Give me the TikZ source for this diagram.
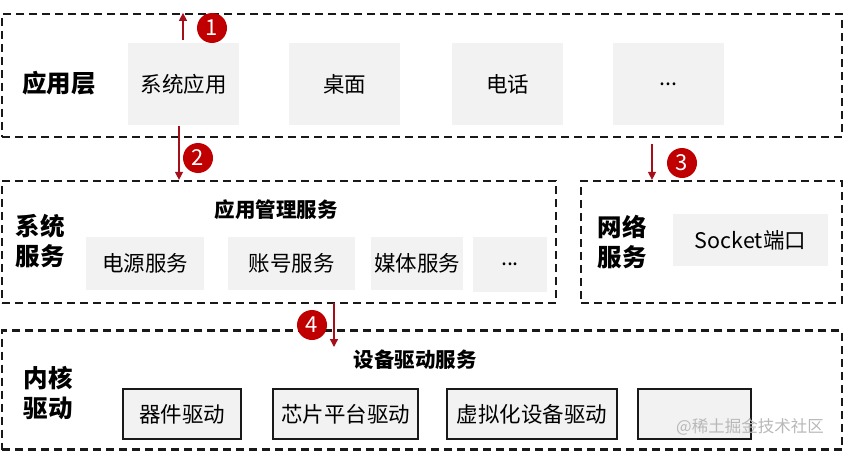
\documentclass[tikz,border=0pt]{standalone}
\usepackage{fontspec}
\setmainfont{Noto Sans CJK SC}
\usetikzlibrary{arrows.meta}
\definecolor{boxgray}{HTML}{F2F2F2}
\definecolor{badgered}{HTML}{C00000}
\definecolor{arrred}{HTML}{A50F1A}
\definecolor{wmgray}{HTML}{B8B8B8}
\begin{document}
\begin{tikzpicture}[x=1pt,y=-1pt,
  layer/.style={draw=black!90, line width=2.2pt, dash pattern=on 8pt off 5pt, minimum width=#1, inner sep=0},
  gbox/.style={fill=boxgray, font=\fontsize{21.5}{26}\selectfont, inner sep=0},
  dbox/.style={gbox, draw=black!90, line width=2pt},
  badge/.style={circle, fill=badgered, text=white, minimum size=30pt, inner sep=0, font=\fontsize{22}{22}\selectfont},
  arr/.style={draw=arrred, line width=1.3pt, -{Triangle[length=8pt,width=8pt]}},
  lbl/.style={font=\bfseries\fontsize{24.5}{30}\selectfont, align=center},
  ttl/.style={font=\bfseries\fontsize{20.5}{24}\selectfont}]
\useasboundingbox (0,0) rectangle (845,452);
% layers
\node[layer=840, minimum height=123] (L1) at (422,75.5) {};
\node[layer=554, minimum height=122] (L2) at (279,242) {};
\node[layer=261, minimum height=122] (L3) at (711.5,242) {};
\node[layer=840, minimum height=119] (L4) at (422,390) {};
% app layer
\node[lbl] (lApp) at (59,83) {应用层};
\node[gbox, minimum width=111, minimum height=82] (sysapp) at (183.5,84) {系统应用};
\node[gbox, minimum width=111, minimum height=82] (desk) at (344.5,84) {桌面};
\node[gbox, minimum width=111, minimum height=82] (phone) at (507.5,84) {电话};
\node[gbox, minimum width=111, minimum height=82] (dots1) at (668.5,84) {...};
% system services
\node[lbl] (lSys) at (40,241) {系统\\服务};
\node[ttl] (tMgmt) at (276,210) {应用管理服务};
\node[gbox, minimum width=118, minimum height=53] (power) at (145,263.5) {电源服务};
\node[gbox, minimum width=127, minimum height=53] (account) at (291.5,263.5) {账号服务};
\node[gbox, minimum width=92, minimum height=53] (media) at (417,263.5) {媒体服务};
\node[gbox, minimum width=74, minimum height=55] (dots2) at (510,264.5) {...};
% network services
\node[lbl] (lNet) at (622,242) {网络\\服务};
\node[gbox, minimum width=155, minimum height=52] (socket) at (750.5,240) {Socket端口};
% kernel drivers
\node[lbl] (lKer) at (48,393) {内核\\驱动};
\node[ttl] (tDrv) at (415,360) {设备驱动服务};
\node[dbox, minimum width=118, minimum height=50] (dev) at (182,414) {器件驱动};
\node[dbox, minimum width=145, minimum height=50] (chip) at (345.5,414) {芯片平台驱动};
\node[dbox, minimum width=170, minimum height=50] (virt) at (532,414) {虚拟化设备驱动};
\node[dbox, minimum width=113, minimum height=50] (empty) at (694.5,414) {};
% arrows
\coordinate (a1s) at (183,40);
\draw[arr] (a1s) -- (a1s |- L1.north);
\coordinate (a2s) at (179,126);
\draw[arr] (a2s) -- (a2s |- L2.north);
\coordinate (a3s) at (652,144);
\draw[arr] (a3s) -- (a3s |- L3.north);
\coordinate (a4s) at (334,303);
\coordinate (a4e) at (334,347);
\draw[arr] (a4s) -- (a4e);
% badges
\node[badge] (b1) at (212,28) {1};
\node[badge] (b2) at (198,158) {2};
\node[badge] (b3) at (682,163) {3};
\node[badge] (b4) at (312,325) {4};
% watermark
\node[text=wmgray, font=\fontsize{16.5}{18}\selectfont] (wm) at (750,427) {@稀土掘金技术社区};
\end{tikzpicture}
\end{document}
